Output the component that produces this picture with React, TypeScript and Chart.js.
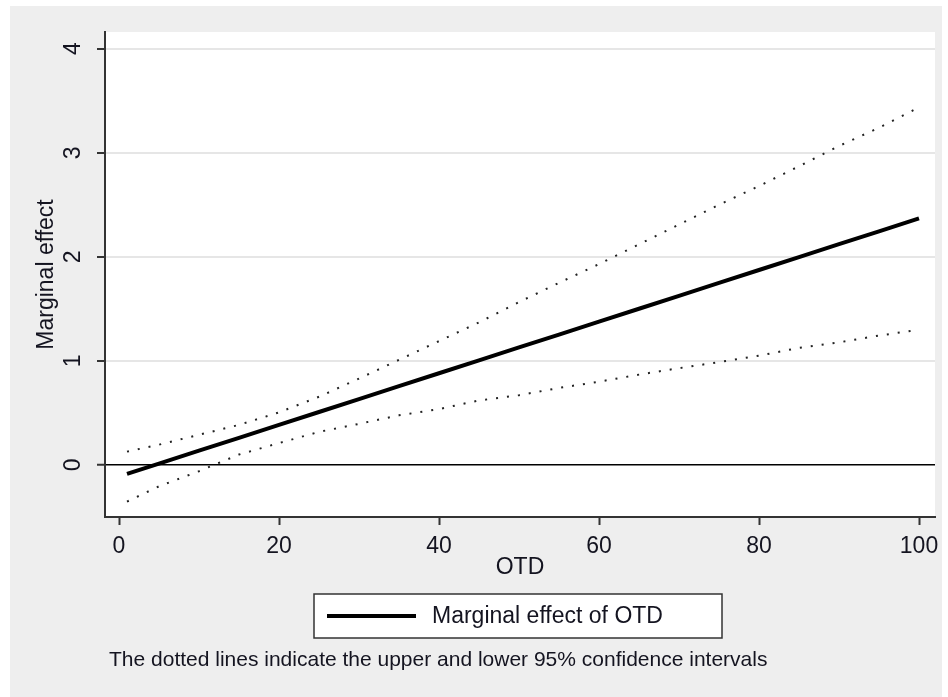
import React, { useEffect, useRef } from 'react';
import { Chart, registerables } from 'chart.js';

Chart.register(...registerables);

// ---- data ----
const otd = [1, 5, 10, 15, 20, 25, 30, 35, 40, 45, 50, 55, 60, 65, 70, 75, 80, 85, 90, 95, 100];
const marginalEffect = [-0.086, 0.013, 0.137, 0.261, 0.385, 0.509, 0.633, 0.757, 0.881, 1.005, 1.129, 1.253, 1.377, 1.501, 1.625, 1.749, 1.873, 1.997, 2.121, 2.245, 2.369];
const upperCI = [0.128, 0.195, 0.29, 0.385, 0.505, 0.655, 0.83, 1.01, 1.19, 1.37, 1.565, 1.75, 1.93, 2.12, 2.31, 2.5, 2.68, 2.87, 3.065, 3.24, 3.436];
const lowerCI = [-0.352, -0.205, -0.06, 0.1, 0.21, 0.318, 0.395, 0.477, 0.537, 0.62, 0.67, 0.74, 0.8, 0.868, 0.93, 0.988, 1.05, 1.125, 1.178, 1.243, 1.3];
const xTickValues = [0, 20, 40, 60, 80, 100];
const yTickValues = [0, 1, 2, 3, 4];
const xTitle = 'OTD';
const yTitle = 'Marginal effect';
const legendLabel = 'Marginal effect of OTD';
const noteText = 'The dotted lines indicate the upper and lower 95% confidence intervals';

const FONT = '"Liberation Sans", Arial, Helvetica, sans-serif';
const TEXT = '#141420';

const toPoints = (ys: number[]) => otd.map((x, i) => ({ x, y: ys[i] }));

const stataPlugin = {
  id: 'stataDecor',
  beforeDraw(chart: any) {
    const { ctx, chartArea: a, width, height } = chart;
    ctx.save();
    ctx.fillStyle = '#ffffff';
    ctx.fillRect(0, 0, width, height);
    ctx.fillStyle = '#eeeeee';
    ctx.fillRect(10, 6, width - 16, height - 6);
    ctx.fillStyle = '#ffffff';
    ctx.fillRect(a.left, a.top, a.right - a.left, a.bottom - a.top);
    ctx.restore();
  },
  afterDraw(chart: any) {
    const { ctx } = chart;
    ctx.save();
    // legend box
    const bx = 314, by = 594, bw = 408, bh = 44;
    ctx.fillStyle = '#ffffff';
    ctx.fillRect(bx, by, bw, bh);
    ctx.strokeStyle = '#333333';
    ctx.lineWidth = 1.5;
    ctx.strokeRect(bx, by, bw, bh);
    const ly = by + bh / 2;
    ctx.strokeStyle = '#000000';
    ctx.lineWidth = 4;
    ctx.beginPath();
    ctx.moveTo(327, ly);
    ctx.lineTo(416, ly);
    ctx.stroke();
    ctx.fillStyle = TEXT;
    ctx.font = `23px ${FONT}`;
    ctx.textAlign = 'left';
    ctx.textBaseline = 'middle';
    ctx.fillText(legendLabel, 432, ly + 1);
    // note
    ctx.font = `21px ${FONT}`;
    ctx.fillText(noteText, 109, 660);
    ctx.restore();
  },
};

export default function App() {
  const canvasRef = useRef<HTMLCanvasElement | null>(null);

  useEffect(() => {
    document.body.style.margin = '0';
    const canvas = canvasRef.current;
    if (!canvas) return;
    const chart = new Chart(canvas, {
      type: 'line',
      data: {
        datasets: [
          {
            label: 'Upper 95% CI',
            data: toPoints(upperCI),
            borderColor: '#222222',
            borderWidth: 2,
            borderDash: [2, 9],
            borderCapStyle: 'butt',
            pointRadius: 0,
            fill: false,
          },
          {
            label: 'Lower 95% CI',
            data: toPoints(lowerCI),
            borderColor: '#222222',
            borderWidth: 2,
            borderDash: [2, 9],
            borderCapStyle: 'butt',
            pointRadius: 0,
            fill: false,
          },
          {
            label: legendLabel,
            data: toPoints(marginalEffect),
            borderColor: '#000000',
            borderWidth: 4,
            pointRadius: 0,
            fill: false,
          },
        ],
      },
      options: {
        responsive: false,
        animation: false,
        events: [],
        layout: { padding: { left: 0, top: 32, right: 13, bottom: 117 } },
        plugins: {
          legend: { display: false },
          tooltip: { enabled: false },
          title: { display: false },
        },
        scales: {
          x: {
            type: 'linear',
            min: -1.75,
            max: 102,
            afterBuildTicks: (scale: any) => {
              scale.ticks = xTickValues.map((v) => ({ value: v }));
            },
            afterFit: (scale: any) => {
              scale.height = 63;
              scale.paddingLeft = 0;
              scale.paddingRight = 0;
            },
            grid: {
              drawOnChartArea: false,
              drawTicks: true,
              tickLength: 8,
              tickColor: '#333333',
              tickWidth: 2,
            },
            border: { display: true, color: '#333333', width: 2 },
            ticks: {
              color: TEXT,
              padding: 10.5,
              maxRotation: 0,
              autoSkip: false,
              font: { family: FONT, size: 23, lineHeight: 1 },
            },
            title: {
              display: true,
              text: xTitle,
              color: TEXT,
              padding: { top: 0, bottom: 1 },
              font: { family: FONT, size: 23, lineHeight: 1 },
            },
          },
          y: {
            type: 'linear',
            min: -0.5,
            max: 4.16,
            afterBuildTicks: (scale: any) => {
              scale.ticks = yTickValues.map((v) => ({ value: v }));
            },
            afterFit: (scale: any) => {
              scale.width = 105;
              scale.paddingTop = 0;
              scale.paddingBottom = 0;
            },
            grid: {
              drawOnChartArea: true,
              drawTicks: true,
              tickLength: 8,
              tickColor: '#333333',
              tickWidth: 2,
              color: (c: any) => (c.tick && c.tick.value === 0 ? '#000000' : '#e6e6e6'),
              lineWidth: (c: any) => (c.tick && c.tick.value === 0 ? 1.5 : 2),
            },
            border: { display: true, color: '#333333', width: 2 },
            ticks: {
              color: TEXT,
              padding: 16.6,
              minRotation: 90,
              maxRotation: 90,
              crossAlign: 'center',
              autoSkip: false,
              font: { family: FONT, size: 23, lineHeight: 1 },
            },
            title: {
              display: true,
              text: yTitle,
              color: TEXT,
              padding: { top: 35.5, bottom: 0 },
              font: { family: FONT, size: 23, lineHeight: 1 },
            },
          },
        },
      },
      plugins: [stataPlugin],
    } as any);
    return () => chart.destroy();
  }, []);

  return (
    <div style={{ width: 948, height: 697 }}>
      <canvas ref={canvasRef} width={948} height={697} style={{ display: 'block' }} />
    </div>
  );
}
